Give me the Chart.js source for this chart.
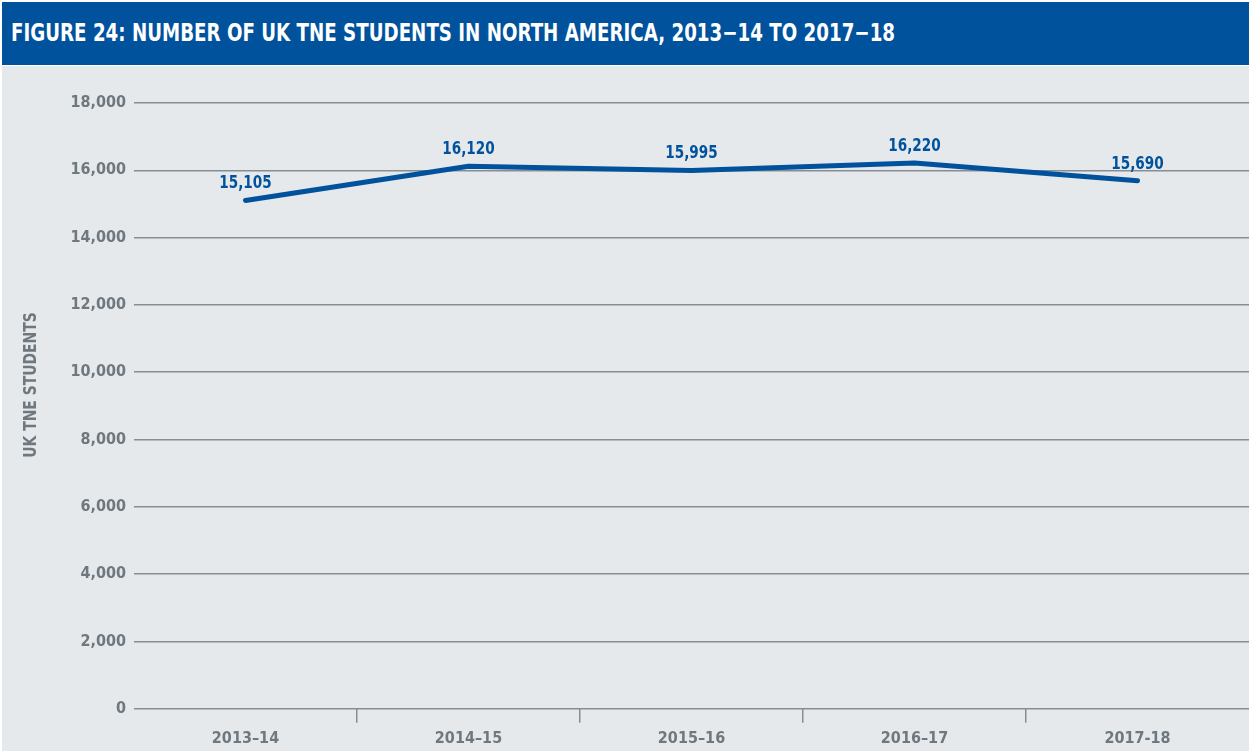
<!DOCTYPE html>
<html>
<head>
<meta charset="utf-8">
<script src="https://cdn.jsdelivr.net/npm/chart.js@4/dist/chart.umd.min.js"></script>
<style>
  html, body { margin: 0; padding: 0; background: #ffffff; }
  body { width: 1249px; height: 751px; overflow: hidden; position: relative; }
  #bar {
    position: absolute; left: 2px; top: 2px; width: 1247px; height: 63px;
    background: #00529c; color: #ffffff;
    font-family: "Liberation Sans Narrow", "DejaVu Sans Condensed", sans-serif;
    font-weight: bold; font-size: 24px; line-height: 63px;
    box-sizing: border-box; padding-left: 9px; white-space: nowrap;
  }
  #bar span { display: inline-block; transform: scaleX(0.845); transform-origin: 0 50%; }
  #panel {
    position: absolute; left: 2px; top: 66px; width: 1247px; height: 685px;
    background: #e6e9ec; overflow: hidden;
  }
  canvas { display: block; }
</style>
</head>
<body>
<div id="bar"><span>FIGURE 24: NUMBER OF UK TNE STUDENTS IN NORTH AMERICA, 2013−14 TO 2017−18</span></div>
<div id="panel"><canvas id="chart" width="1247" height="692"></canvas></div>
<script>
const years = ["2013–14", "2014–15", "2015–16", "2016–17", "2017-18"];
const students = [15105, 16120, 15995, 16220, 15690];
const yTicks = [0, 2000, 4000, 6000, 8000, 10000, 12000, 14000, 16000, 18000];
const yTitle = 'UK TNE STUDENTS';

const FONT = '"Liberation Sans Narrow", "DejaVu Sans Condensed", sans-serif';
const GREY_TEXT = '#6e787e';
const GRID = '#858e93';
const BLUE = '#00529c';

// tick marks only between categories, not at the two outer edges
const innerTick = (c) => c.type === 'tick' && c.index > 0;

// Value labels above each point, plus the rotated axis caption
const annotations = {
  id: 'annotations',
  afterDatasetsDraw(chart) {
    const ctx = chart.ctx;
    const meta = chart.getDatasetMeta(0);
    ctx.save();
    ctx.font = 'bold 18px ' + FONT;
    ctx.fillStyle = BLUE;
    ctx.textAlign = 'center';
    ctx.textBaseline = 'alphabetic';
    meta.data.forEach((pt, i) => {
      ctx.save();
      ctx.translate(pt.x, pt.y - 12);
      ctx.scale(0.84, 1);
      ctx.fillText(students[i].toLocaleString('en-GB'), 0, 0);
      ctx.restore();
    });
    ctx.restore();

    ctx.save();
    ctx.font = 'bold 18px ' + FONT;
    ctx.fillStyle = GREY_TEXT;
    ctx.textAlign = 'center';
    ctx.textBaseline = 'middle';
    ctx.translate(29, 319);
    ctx.rotate(-Math.PI / 2);
    ctx.scale(0.86, 1);
    ctx.fillText(yTitle, 0, 0);
    ctx.restore();
  }
};

new Chart(document.getElementById('chart'), {
  type: 'line',
  data: {
    labels: years,
    datasets: [{
      data: students,
      borderColor: BLUE,
      borderWidth: 5,
      borderCapStyle: 'round',
      borderJoinStyle: 'round',
      pointRadius: 0,
      tension: 0,
      fill: false
    }]
  },
  options: {
    responsive: false,
    animation: false,
    layout: { padding: { top: 37, right: 0, bottom: 4, left: 0 } },
    plugins: { legend: { display: false }, tooltip: { enabled: false } },
    scales: {
      x: {
        offset: true,
        border: { display: false },
        grid: {
          offset: true,
          drawOnChartArea: false,
          drawTicks: true,
          tickLength: 14,
          lineWidth: (c) => innerTick(c) ? 1.5 : 0,
          tickWidth: (c) => innerTick(c) ? 1.5 : 0,
          color: (c) => innerTick(c) ? GRID : 'rgba(0,0,0,0)',
          tickColor: (c) => innerTick(c) ? GRID : 'rgba(0,0,0,0)'
        },
        ticks: {
          padding: 6,
          color: GREY_TEXT,
          font: { family: FONT, weight: 'bold', size: 16 },
          maxRotation: 0
        }
      },
      y: {
        min: 0,
        max: 18000,
        afterFit: (s) => { s.width = 132; },
        afterBuildTicks: (s) => { s.ticks = yTicks.map(v => ({ value: v })); },
        border: { display: false },
        grid: { drawTicks: false, color: GRID, lineWidth: 1.5 },
        ticks: {
          padding: 8,
          color: GREY_TEXT,
          font: { family: FONT, weight: 'bold', size: 16 },
          callback: (v) => Number(v).toLocaleString('en-GB')
        }
      }
    }
  },
  plugins: [annotations]
});
</script>
</body>
</html>
